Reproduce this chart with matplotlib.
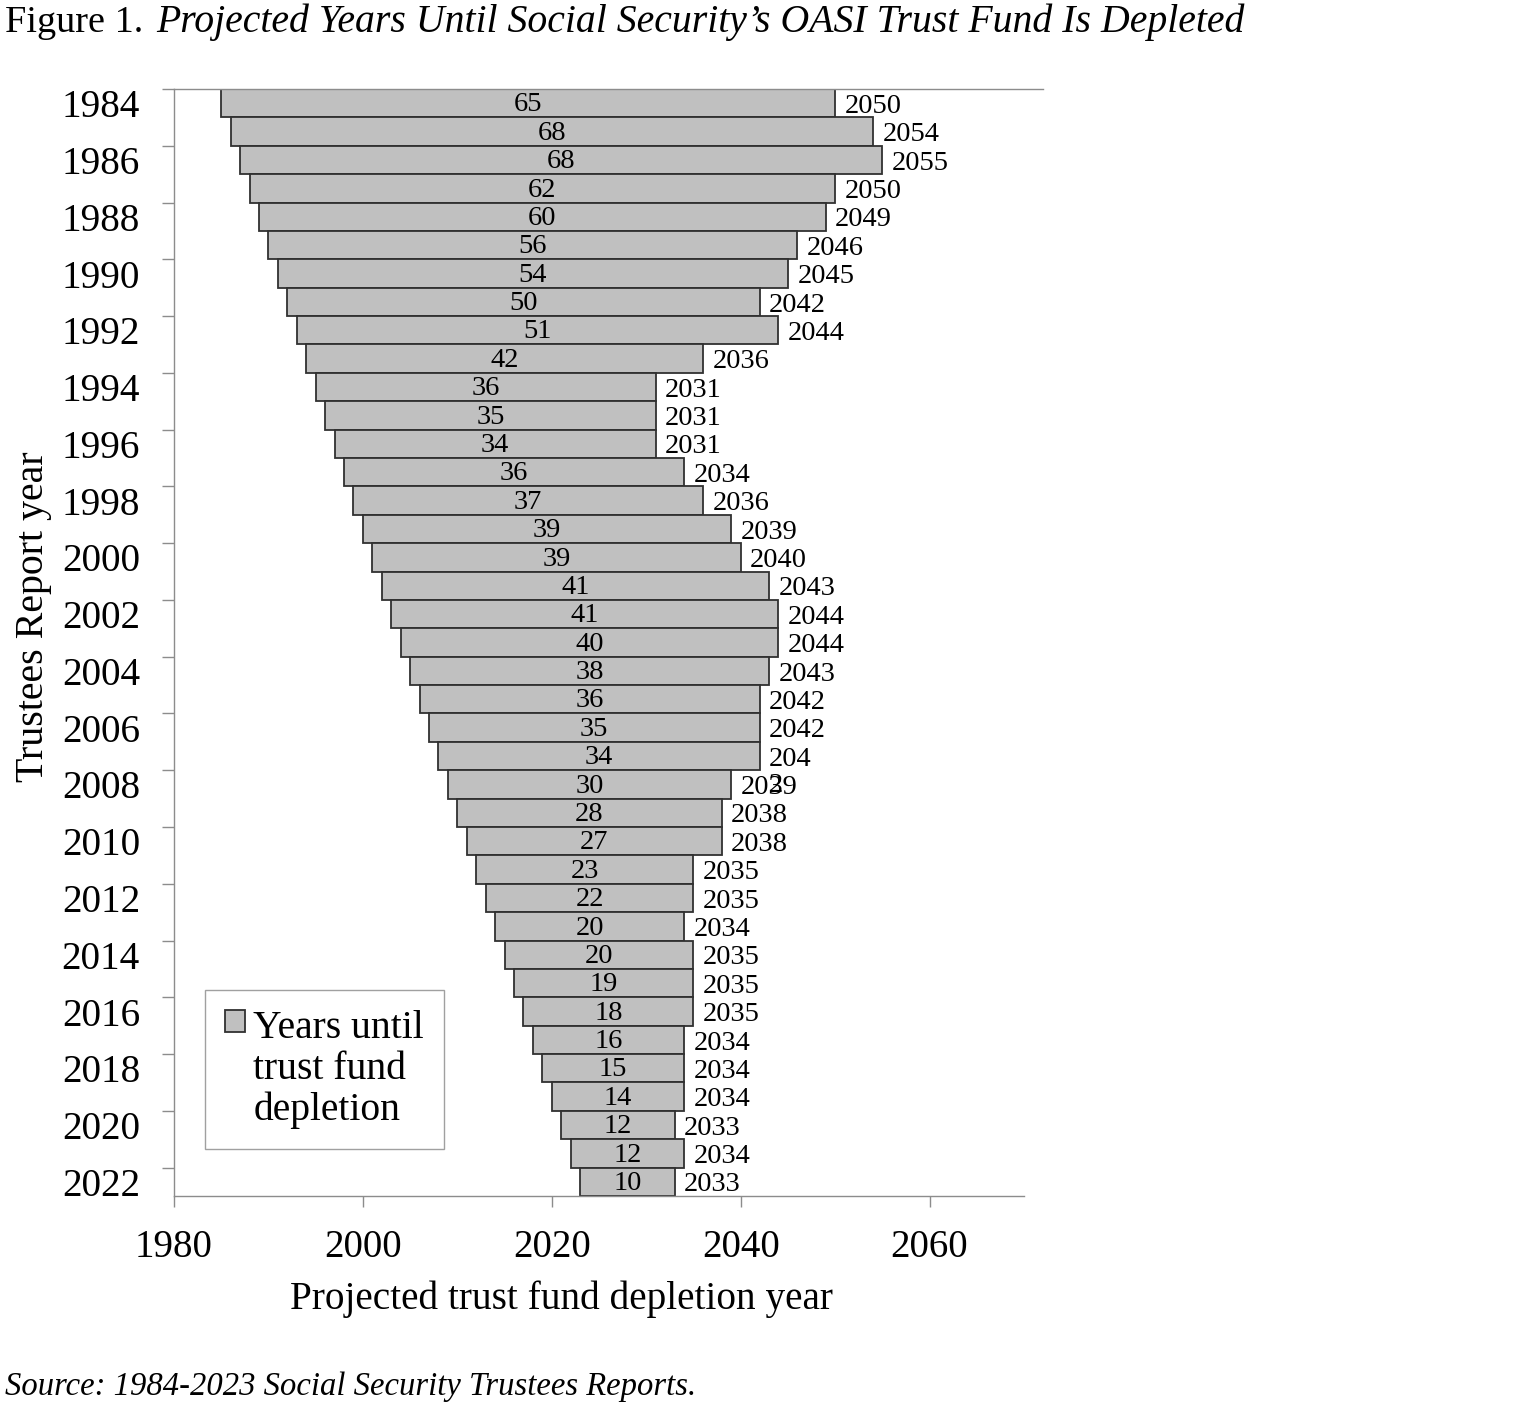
import matplotlib
matplotlib.use('Agg')
import matplotlib.pyplot as plt
import numpy as np

plt.rcParams['font.family'] = ['Liberation Serif', 'DejaVu Serif']

# Category labels printed on the y axis (every second one is shown)
report_year = [1984, 1985, 1986, 1987, 1988, 1989, 1990, 1991, 1992, 1993,
               1994, 1995, 1996, 1997, 1998, 1999, 2000, 2001, 2002, 2003,
               2004, 2005, 2006, 2007, 2008, 2009, 2010, 2011, 2012, 2013,
               2014, 2015, 2016, 2017, 2018, 2019, 2020, 2021, 2022]

# Left edge of each bar (year the projection starts)
start_year = [1985, 1986, 1987, 1988, 1989, 1990, 1991, 1992, 1993, 1994,
              1995, 1996, 1997, 1998, 1999, 2000, 2001, 2002, 2003, 2004,
              2005, 2006, 2007, 2008, 2009, 2010, 2011, 2012, 2013, 2014,
              2015, 2016, 2017, 2018, 2019, 2020, 2021, 2022, 2023]

# Projected depletion year
depletion_year = [2050, 2054, 2055, 2050, 2049, 2046, 2045, 2042, 2044, 2036,
                  2031, 2031, 2031, 2034, 2036, 2039, 2040, 2043, 2044, 2044,
                  2043, 2042, 2042, 2042, 2039, 2038, 2038, 2035, 2035, 2034,
                  2035, 2035, 2035, 2034, 2034, 2034, 2033, 2034, 2033]

# Years until depletion (bar length)
years_until = [65, 68, 68, 62, 60, 56, 54, 50, 51, 42,
               36, 35, 34, 36, 37, 39, 39, 41, 41, 40,
               38, 36, 35, 34, 30, 28, 27, 23, 22, 20,
               20, 19, 18, 16, 15, 14, 12, 12, 10]

end_labels = [str(y) for y in depletion_year]
end_labels[23] = '204\n2'   # wrapped like this in the original

W, H = 1536, 1409
fig = plt.figure(figsize=(W / 100, H / 100), dpi=100)

ax_l, ax_r, ax_t, ax_b = 174, 1024, 89, 1196
ax = fig.add_axes([ax_l / W, 1 - ax_b / H, (ax_r - ax_l) / W, (ax_b - ax_t) / H])

grey = '#8c8c8c'
pos = np.arange(len(years_until))

ax.barh(pos, years_until, left=start_year, height=1.0, color='#c0c0c0',
        edgecolor='#303030', linewidth=1.3,
        label='Years until\ntrust fund\ndepletion')

for i in pos:
    mid = start_year[i] + years_until[i] / 2
    ax.text(mid, i + 0.06, str(years_until[i]), ha='center', va='center', fontsize=20.5)
    ax.text(depletion_year[i] + 1.0, i - 0.33, end_labels[i], ha='left',
            va='top', fontsize=20.5, linespacing=1.05)

ax.set_xlim(1980, 2070)
ax.set_ylim(len(years_until) - 0.5, -0.5)

ax.set_xticks([1980, 2000, 2020, 2040, 2060])
ax.tick_params(axis='x', which='major', direction='out', length=8, width=1,
               color=grey, pad=16, labelsize=28)

ax.set_yticks(np.arange(-0.5, len(years_until) - 1, 2))
ax.set_yticklabels([])
ax.set_yticks(pos[::2], minor=True)
ax.set_yticklabels([str(y) for y in report_year[::2]], minor=True)
ax.tick_params(axis='y', which='major', direction='out', length=9, width=1, color=grey)
ax.tick_params(axis='y', which='minor', length=0, pad=24.5, labelsize=28.2)

for side in ['right', 'top']:
    ax.spines[side].set_visible(False)
for side in ['left', 'bottom']:
    ax.spines[side].set_color(grey)
    ax.spines[side].set_linewidth(1)
ax.plot([0, (1043 - ax_l) / (ax_r - ax_l)], [1, 1], transform=ax.transAxes,
        color=grey, lw=1, clip_on=False)

ax.set_xlabel('Projected trust fund depletion year', fontsize=28.3)
ax.xaxis.label.set_va('baseline')
ax.xaxis.set_label_coords((561 - ax_l) / (ax_r - ax_l), -(1309 - ax_b) / (ax_b - ax_t))
ax.set_ylabel('Trustees Report year', fontsize=28.7)
ax.yaxis.label.set_va('center')
ax.yaxis.set_label_coords((34 - ax_l) / (ax_r - ax_l), 1 - (617 - ax_t) / (ax_b - ax_t))

leg = ax.legend(loc='lower left', bbox_to_anchor=(205 / W, 1 - 1149 / H),
                bbox_transform=fig.transFigure, borderaxespad=0, fontsize=28.5,
                handlelength=0.5, handleheight=0.5, handletextpad=0.22,
                borderpad=0.5, fancybox=False, framealpha=1, edgecolor='#a0a0a0')
leg.get_frame().set_linewidth(1)
for t in leg.get_texts():
    t.set_linespacing(1.14)
for col in leg._legend_handle_box.get_children():
    for row in col.get_children():
        row.align = 'top'

# Title: plain prefix followed by italic text
t1 = fig.text(5 / W, 1 - 32 / H, 'Figure 1.', fontsize=27.5, va='baseline', ha='left')
renderer = fig.canvas.get_renderer()
bb = t1.get_window_extent(renderer)
fig.text((bb.x1 + 13) / W, 1 - 32 / H,
         'Projected Years Until Social Security\u2019s OASI Trust Fund Is Depleted',
         fontsize=28.6, style='italic', va='baseline', ha='left')

fig.text(5 / W, 1 - 1395 / H, 'Source: 1984-2023 Social Security Trustees Reports.',
         fontsize=23.5, style='italic', va='baseline', ha='left')

fig.savefig('out.png', dpi=100)
